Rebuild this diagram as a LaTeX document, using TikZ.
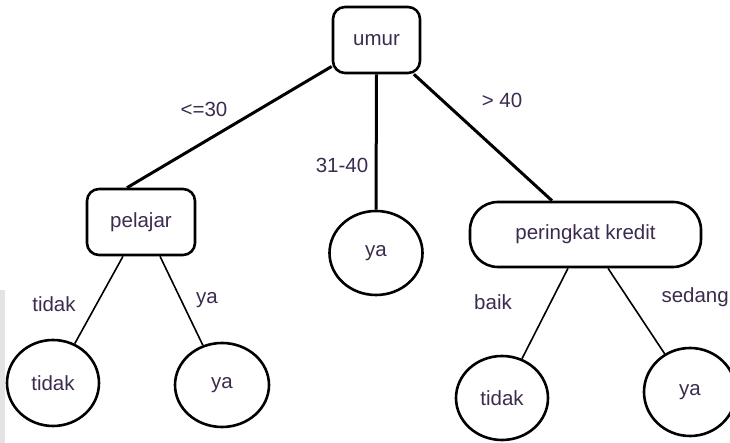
\documentclass[tikz,border=0pt]{standalone}
\usepackage{fontspec}
\setmainfont{Liberation Sans}
\usetikzlibrary{shapes.geometric}
\definecolor{labelink}{HTML}{3C2B4E}
\begin{document}
\begin{tikzpicture}[x=1pt,y=1pt,
  every node/.style={font=\fontsize{20.5}{24}\selectfont, text=labelink},
  decision/.style={draw=black, line width=2.6pt, rounded corners=12pt, inner sep=0pt},
  leaf/.style={draw=black, ellipse, line width=2.6pt, inner sep=0pt},
  trunk/.style={line width=3pt},
  twig/.style={line width=1.6pt},
  edgelabel/.style={inner sep=0pt, anchor=base}]
\useasboundingbox (0,0) rectangle (730,443);
% thin grey strip along the lower left edge
\fill[gray!22] (0,0) rectangle (5,153);

% decision nodes
\node[decision, minimum width=87pt, minimum height=66pt] (umur) at (376.5,403) {umur};
\node[decision, minimum width=108pt, minimum height=66pt] (pelajar) at (141,221) {pelajar};
\node[decision, rounded corners=28pt, minimum width=231pt, minimum height=65pt] (kredit) at (585.5,208.5) {peringkat kredit};

% leaves
\node[leaf, minimum width=92pt, minimum height=86pt] (tidakL) at (53,60) {tidak};
\node[leaf, minimum width=94pt, minimum height=84pt] (yaL) at (222,58) {ya};
\node[leaf, minimum width=93pt, minimum height=84pt] (yaM) at (376,190) {ya};
\node[leaf, minimum width=92pt, minimum height=84pt] (tidakR) at (502,45) {tidak};
\node[leaf, minimum width=92pt, minimum height=88pt] (yaR) at (690,51) {ya};

% branches
\draw[trunk] ([xshift=-14pt]pelajar.north) -- (umur);
\draw[trunk] (umur.south) -- (yaM.north);
\draw[trunk] ([xshift=-33.5pt]kredit.north) -- (umur);
\draw[twig] ([xshift=-18pt]pelajar.south) -- (tidakL);
\draw[twig] ([xshift=19pt]pelajar.south) -- (yaL);
\draw[twig] ([xshift=-17.5pt]kredit.south) -- (tidakR);
\draw[twig] ([xshift=22.5pt]kredit.south) -- (yaR);

% branch labels
\node[edgelabel] (l30) at (204,326) {<=30};
\node[edgelabel] (l3140) at (342,270) {31-40};
\node[edgelabel] (l40) at (502,335) {> 40};
\node[edgelabel] (ltidak) at (54,131) {tidak};
\node[edgelabel] (lya) at (207,139) {ya};
\node[edgelabel] (lbaik) at (493,133) {baik};
\node[edgelabel, anchor=base east] (lsedang) at (729,140) {sedang};
\end{tikzpicture}
\end{document}
